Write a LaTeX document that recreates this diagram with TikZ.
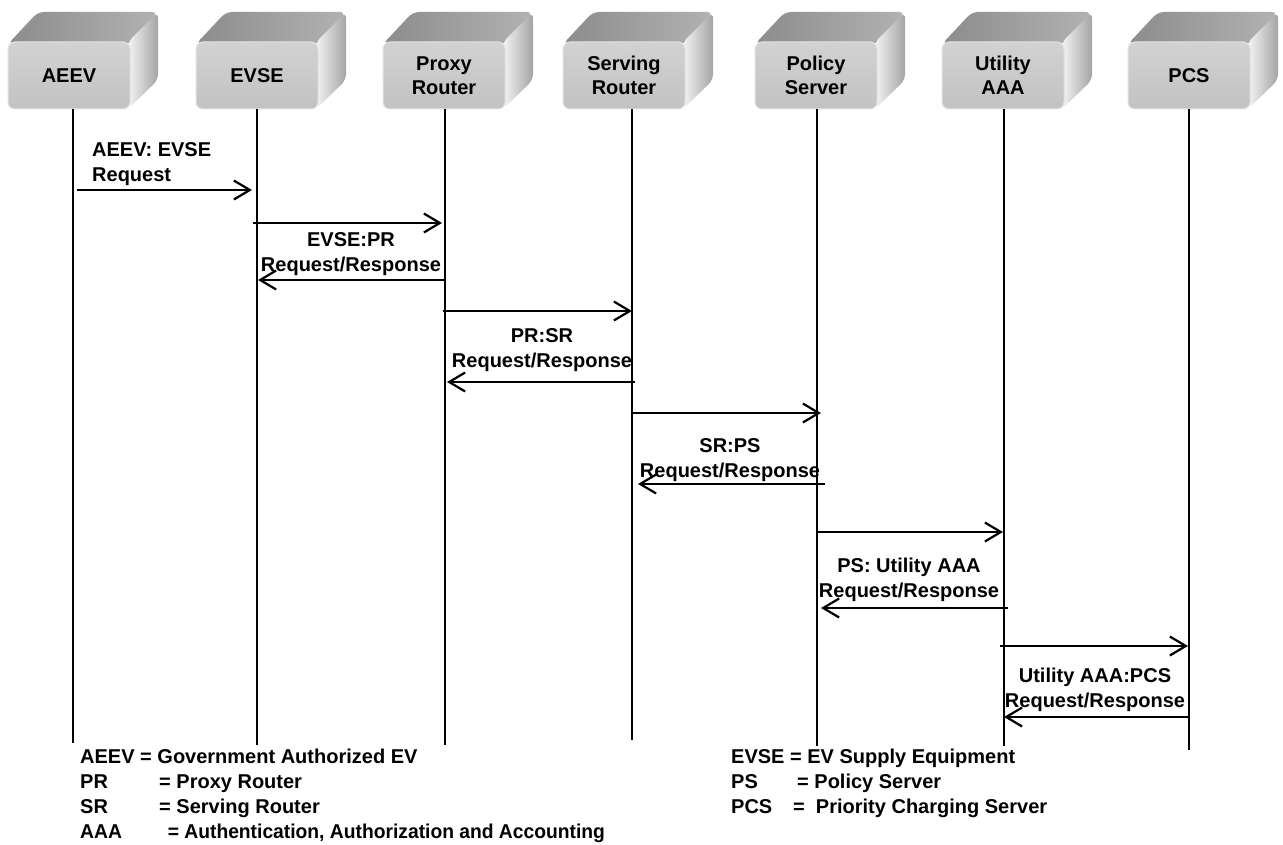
\documentclass[tikz,border=0pt]{standalone}
\usepackage{fontspec}
\usepackage{graphicx}
\setmainfont{Liberation Sans}
\usetikzlibrary{arrows.meta}
\definecolor{frontTop}{HTML}{D2D2D2}
\definecolor{frontBot}{HTML}{C2C2C2}
\definecolor{frontEdge}{HTML}{E2E2E2}
\definecolor{topL}{HTML}{8C8C8C}
\definecolor{topR}{HTML}{B2B2B2}
\definecolor{sideL}{HTML}{F4F4F4}
\definecolor{sideR}{HTML}{A4A4A4}
\newcommand\drawdev[3]{%
  \path[topface] (#2-61,44) -- (#2-31,12) -- (#2+89,12) -- (#2+61,44) -- cycle;
  \path[sideface] (#2+59,42) -- (#2+89,12) -- (#2+89,80) -- (#2+59,109) -- cycle;
  \node[front] (#1) at (#2,75.5) {#3};
}
\begin{document}
\begin{tikzpicture}[x=1pt,y=-1pt,
  font=\fontsize{20}{24}\selectfont\bfseries,
  topface/.style={rounded corners=6pt, left color=topL, right color=topR},
  sideface/.style={rounded corners=6pt, left color=sideL, right color=sideR},
  front/.style={rounded corners=7pt, minimum width=122pt, minimum height=67pt,
    inner sep=0pt, top color=frontTop, bottom color=frontBot,
    draw=frontEdge, line width=1pt, align=center},
  life/.style={line width=2pt},
  msg/.style={line width=2.2pt, -{Straight Barb[length=16pt,width=19pt,line width=2.2pt]}},
  lbl/.style={align=center, inner sep=0pt, anchor=base, font=\fontsize{20}{25}\selectfont\bfseries},
  leg/.style={inner sep=0pt, anchor=base west, font=\fontsize{20}{25}\selectfont\bfseries}]
\useasboundingbox (0,0) rectangle (1283,845);

% devices
\drawdev{aeev}{69}{AEEV}
\drawdev{evse}{257}{EVSE}
\drawdev{proxy}{444}{Proxy\\Router}
\drawdev{serv}{624}{Serving\\Router}
\drawdev{pol}{816}{Policy\\Server}
\drawdev{util}{1003}{Utility\\AAA}
\drawdev{pcs}{1189}{PCS}

% lifeline ends
\coordinate (e1) at (73,743);
\coordinate (e2) at (257,745);
\coordinate (e3) at (445,745);
\coordinate (e4) at (632,740);
\coordinate (e5) at (817,746);
\coordinate (e6) at (1004,746);
\coordinate (e7) at (1189,750);
\draw[life] (aeev.south -| e1) -- (e1);
\draw[life] (evse.south -| e2) -- (e2);
\draw[life] (proxy.south -| e3) -- (e3);
\draw[life] (serv.south -| e4) -- (e4);
\draw[life] (pol.south -| e5) -- (e5);
\draw[life] (util.south -| e6) -- (e6);
\draw[life] (pcs.south -| e7) -- (e7);

% message end points
\coordinate (m1a) at (77,190);   \coordinate (m1b) at (252,190);
\coordinate (m2a) at (253,223);  \coordinate (m2b) at (442,223);
\coordinate (m3a) at (446,280);  \coordinate (m3b) at (258,280);
\coordinate (m4a) at (443,311);  \coordinate (m4b) at (632,311);
\coordinate (m5a) at (635,382);  \coordinate (m5b) at (447,382);
\coordinate (m6a) at (633,413);  \coordinate (m6b) at (821,413);
\coordinate (m7a) at (825,484);  \coordinate (m7b) at (638,484);
\coordinate (m8a) at (817,532);  \coordinate (m8b) at (1003,532);
\coordinate (m9a) at (1008,608); \coordinate (m9b) at (821,608);
\coordinate (m10a) at (1000,646); \coordinate (m10b) at (1188,646);
\coordinate (m11a) at (1190,717); \coordinate (m11b) at (1004,717);
\foreach \i in {1,...,11} { \draw[msg] (m\i a) -- (m\i b); }

% message labels (anchor = baseline of last line)
\node[lbl, align=left, anchor=base west] (t1) at (92,182) {AEEV: EVSE\\Request};
\node[lbl] (t2) at (351,272) {EVSE:PR\\Request/Response};
\node[lbl] (t3) at (542,367) {PR:SR\\Request/Response};
\node[lbl] (t4) at (730,477) {SR:PS\\Request/Response};
\node[lbl] (t5) at (909,597) {PS: Utility AAA\\Request/Response};
\node[lbl] (t6) at (1095,707) {Utility AAA:PCS\\Request/Response};

% legend
\node[leg] (g1) at (80,763) {AEEV = Government Authorized EV};
\node[leg] (g2) at (80,788) {\makebox[79pt][l]{PR}= Proxy Router};
\node[leg] (g3) at (80,813) {\makebox[79pt][l]{SR}= Serving Router};
\node[leg] (g4) at (80,838) {\scalebox{0.963}[1]{\makebox[91pt][l]{AAA}= Authentication, Authorization and Accounting}};
\node[leg] (g5) at (731,763) {EVSE = EV Supply Equipment};
\node[leg] (g6) at (731,788) {\makebox[66pt][l]{PS}= Policy Server};
\node[leg] (g7) at (731,813) {\makebox[62pt][l]{PCS}= \ Priority Charging Server};
\end{tikzpicture}
\end{document}
